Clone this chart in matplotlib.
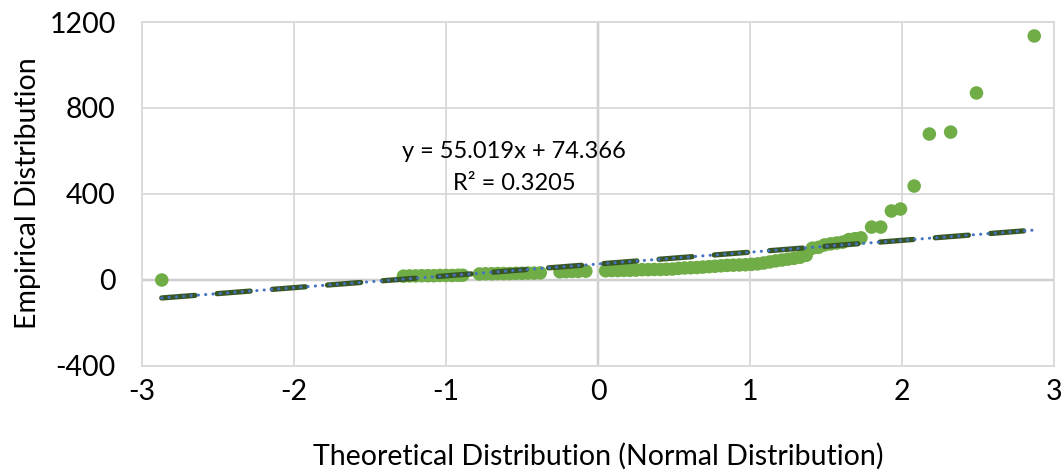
import numpy as np
import matplotlib.pyplot as plt

# Werte (Q-Q-Plot)
theoretical = [
    -2.87,
    -1.28, -1.24, -1.20, -1.16, -1.12, -1.08, -1.04, -1.00, -0.96, -0.92, -0.89,
    -0.78, -0.74, -0.70, -0.66, -0.62, -0.58, -0.54, -0.50, -0.46, -0.42, -0.38,
    -0.25, -0.21, -0.17, -0.13, -0.08,
    0.05, 0.09, 0.13, 0.17, 0.21, 0.25,
    0.29, 0.33, 0.37, 0.41, 0.45, 0.49,
    0.53, 0.57, 0.61, 0.65, 0.69, 0.73,
    0.77, 0.81, 0.85, 0.89, 0.93, 0.97,
    1.01, 1.05, 1.09, 1.13, 1.17,
    1.21, 1.25, 1.29, 1.33, 1.37,
    1.41, 1.45, 1.49, 1.53, 1.57, 1.61, 1.65, 1.69, 1.73,
    1.80, 1.86, 1.93, 1.99, 2.08, 2.18, 2.32, 2.49, 2.87,
]
empirical = [
    0,
    18, 19, 19, 20, 20, 20, 21, 21, 21, 22, 22,
    28, 29, 29, 30, 30, 30, 31, 31, 32, 32, 33,
    38, 39, 40, 40, 41,
    43, 44, 44, 45, 45, 46,
    48, 48, 49, 49, 50, 51,
    54, 56, 57, 58, 60, 62,
    64, 66, 68, 69, 70, 71,
    73, 75, 79, 84, 89,
    93, 97, 101, 106, 115,
    148, 152, 163, 168, 172, 176, 188, 192, 196,
    246, 246, 321, 330, 437, 679, 688, 870, 1135,
]

# Trendlinie (Excel)
slope = 55.019
intercept = 74.366
r_squared = 0.3205

x_ticks = [-3, -2, -1, 0, 1, 2, 3]
y_ticks = [-400, 0, 400, 800, 1200]

plt.rcParams['font.family'] = ['Lato', 'DejaVu Sans']
fs = 20.5

fig = plt.figure(figsize=(10.62, 4.70), dpi=100)
ax = fig.add_axes([142 / 1062, 1 - 366 / 470, (1054 - 142) / 1062, (366 - 22) / 470])

ax.set_xlim(-3, 3)
ax.set_ylim(-400, 1200)
ax.set_xticks(x_ticks)
ax.set_yticks(y_ticks)
ax.set_xticklabels([str(t) for t in x_ticks])
ax.set_yticklabels([str(t) for t in y_ticks])
ax.grid(True, color='#D9D9D9', linewidth=1.3, zorder=0)
for s in ax.spines.values():
    s.set_color('#D9D9D9')
    s.set_linewidth(1.3)
ax.tick_params(length=0, labelsize=fs, colors='black')
ax.tick_params(axis='y', pad=19)
ax.tick_params(axis='x', pad=9)

# Achsen durch den Nullpunkt
ax.axhline(0, color='#868686', linewidth=1.6, zorder=1)
ax.axvline(0, color='#868686', linewidth=1.6, zorder=1)

ax.scatter(theoretical, empirical, s=95, color='#70AD47', edgecolors='none', zorder=3)

xs = np.array([min(theoretical), max(theoretical)])
ys = slope * xs + intercept
ax.plot(xs, ys, color='#375623', linewidth=3.8, dashes=(6.3, 4.2),
        dash_capstyle='round', zorder=4)
ax.plot(xs, ys, color='#4472C4', linewidth=2.2, dashes=(0.05, 2.35),
        dash_capstyle='round', zorder=5)

ax.text(-0.55, (280 - 152) / 0.215, 'y = %.3fx + %.3f' % (slope, intercept),
        ha='center', va='center', fontsize=17, zorder=6)
ax.text(-0.55, (280 - 184) / 0.215, 'R² = %.4f' % r_squared,
        ha='center', va='center', fontsize=17, zorder=6)

ax.set_xlabel('Theoretical Distribution (Normal Distribution)', fontsize=fs, va='center')
ax.set_ylabel('Empirical Distribution', fontsize=fs, va='center')
ax.xaxis.set_label_coords((598 - 142) / 912, -(456 - 366) / 344)
ax.yaxis.set_label_coords(-(142 - 28) / 912, (366 - 193) / 344)

fig.savefig('out.png', dpi=100)
